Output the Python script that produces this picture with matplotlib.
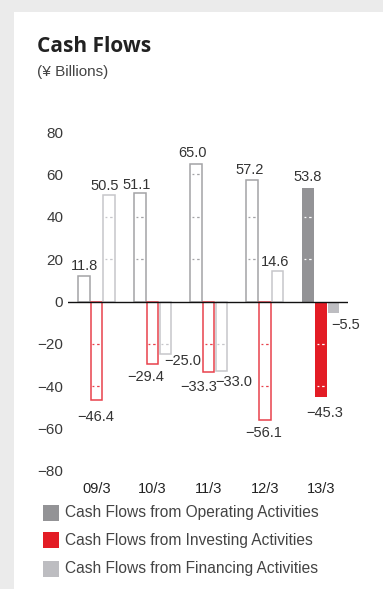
import matplotlib
matplotlib.use("Agg")
import matplotlib.pyplot as plt
from matplotlib.patches import Rectangle
import numpy as np

# Fiscal years and cash flow values (¥ billions)
years = ["09/3", "10/3", "11/3", "12/3", "13/3"]
operating = [11.8, 51.1, 65.0, 57.2, 53.8]
investing = [-46.4, -29.4, -33.3, -56.1, -45.3]
financing = [50.5, -25.0, -33.0, 14.6, -5.5]
yticks = [-80, -60, -40, -20, 0, 20, 40, 60, 80]
series_names = ["Cash Flows from Operating Activities",
                "Cash Flows from Investing Activities",
                "Cash Flows from Financing Activities"]

fill_colors = ["#939396", "#e31c25", "#bdbdc1"]
edge_colors = ["#a3a3a6", "#e8414b", "#c6c6ca"]

# label offsets in pixels (dx, dy) relative to the bar end
label_offsets = {
    0: [(1, -10), (-3, -8), (-4, -11), (-2, -10), (-1, -11)],
    1: [(-1, 17), (-7, 13), (-10, 15), (-1, 13), (4, 16)],
    2: [(-4, -9), (17, 7), (12, 11), (-2, -9), (12, 12)],
}

W, H, DPI = 383, 589, 100
fig = plt.figure(figsize=(W / DPI, H / DPI), dpi=DPI, facecolor="#ebebeb")
fig.patches.append(Rectangle((14 / W, 0), 1 - 14 / W, 1 - 12 / H,
                             transform=fig.transFigure, facecolor="white",
                             edgecolor="none", zorder=-10))

num_font = ["Liberation Sans Narrow", "Liberation Sans", "DejaVu Sans"]
txt_font = ["Liberation Sans", "DejaVu Sans"]

fig.text(37 / W, 1 - 46 / H, "Cash Flows", fontsize=15, fontweight="bold",
         family=["Open Sans", "DejaVu Sans"], color="#222222",
         ha="left", va="center")
fig.text(37 / W, 1 - 72 / H, "(¥ Billions)", fontsize=11, family=txt_font,
         color="#444444", ha="left", va="center")

left, right = 68, 348
top, bottom = 132, 471
ax = fig.add_axes([left / W, 1 - bottom / H, (right - left) / W, (bottom - top) / H])
ax.set_facecolor("none")
ax.set_ylim(-80, 80)
ax.set_xlim(-0.508, 4.483)
for s in ax.spines.values():
    s.set_visible(False)

ax.set_yticks(yticks)
ax.set_yticklabels([str(t).replace("-", "\u2212") for t in yticks])
ax.tick_params(axis="y", length=0, pad=3.5, labelsize=11, labelcolor="#3a3a3a")
ax.set_xticks(range(len(years)))
ax.set_xticklabels(years)
ax.tick_params(axis="x", length=0, pad=8, labelsize=10.5, labelcolor="#222222")
for lab in ax.get_yticklabels() + ax.get_xticklabels():
    lab.set_family(txt_font)

px_per_unit = (right - left) / (4.483 + 0.508)
width = 11.5 / px_per_unit
step = 12.7 / px_per_unit
x = np.arange(len(years))
series = [operating, investing, financing]

for si, vals in enumerate(series):
    xs = x + (si - 1) * step
    for gi, (xc, v) in enumerate(zip(xs, vals)):
        filled = gi == len(years) - 1
        if filled:
            ax.bar(xc, v, width=width, color=fill_colors[si], edgecolor="none", zorder=2)
            dash_col = "white"
        else:
            ax.bar(xc, v, width=width, facecolor="white", edgecolor=edge_colors[si],
                   linewidth=1.1, zorder=2)
            dash_col = edge_colors[si]
        # short dashed guide marks inside the bar at each grid level
        for g in yticks:
            if g != 0 and np.sign(g) == np.sign(v) and abs(g) < abs(v):
                ax.hlines(g, xc - width / 2 + 1.6 / px_per_unit,
                          xc + width / 2 - 1.6 / px_per_unit,
                          colors=dash_col, linewidth=0.9,
                          linestyles=(0.5, (2.0, 2.2)), zorder=3)
        dx, dy = label_offsets[si][gi]
        ax.annotate(f"{v:.1f}".replace("-", "\u2212"), (xc, v),
                    xytext=(dx * 0.72, -dy * 0.72), textcoords="offset points",
                    ha="center", va="center", fontsize=10.5, family=num_font,
                    color="#333333", annotation_clip=False)

ax.axhline(0, color="#111111", linewidth=1.0, zorder=4)

# legend drawn as swatches and labels
for i, (name, col) in enumerate(zip(series_names, fill_colors)):
    yc = [513, 540, 569][i]
    fig.patches.append(Rectangle((43 / W, 1 - (yc + 8) / H), 16 / W, 16 / H,
                                 transform=fig.transFigure, facecolor=col,
                                 edgecolor="none", zorder=2))
    fig.text(65 / W, 1 - yc / H, name, fontsize=11.2, family=txt_font,
             color="#444444", ha="left", va="center")

fig.savefig("out.png", dpi=DPI, facecolor=fig.get_facecolor())
